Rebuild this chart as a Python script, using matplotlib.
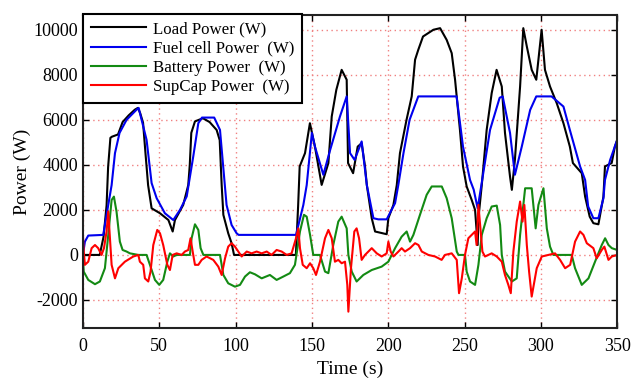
import matplotlib
matplotlib.use("Agg")
import matplotlib.pyplot as plt

plt.rcParams['font.family'] = ['Liberation Serif', 'DejaVu Serif']
plt.rcParams['axes.unicode_minus'] = False

# Load power (W)
t_load = [0, 11, 13.5, 15.5, 16.5, 18, 19, 23, 26, 30,
          34, 36, 37.5, 39.4, 41, 42.7, 45, 50.5, 56, 58.8,
          60.3, 65.7, 69, 70, 71, 73.4, 78.6, 83, 87.6, 89.6,
          90.9, 92, 95.2, 97.4, 99, 139.5, 141, 142, 145.5, 148.7,
          152, 156.4, 160.8, 163, 166, 169.5, 172.8, 173.7, 177, 180,
          182.6, 184.8, 186, 189.2, 191.4, 199, 200.1, 203.4, 205.6, 207.7,
          212, 215.4, 217.6, 219.7, 222.8, 229.6, 234, 238.3, 241.6, 243.8,
          247, 249, 251.4, 254.7, 256.9, 258.6, 259.1, 261.3, 264.5, 267.8,
          271, 274.4, 276.5, 279.8, 281, 283, 286.4, 288.5, 290.8, 294,
          297, 300.5, 302.7, 306, 310.4, 314.8, 319, 321, 326.8, 329,
          332, 334.4, 337.7, 341, 342, 346.4, 348.5, 350]
p_load = [0, 0, 800, 2200, 3900, 5200, 5250, 5350, 5900, 6200,
          6450, 6530, 6300, 5870, 4500, 3100, 2070, 1850, 1550, 1040,
          1550, 2220, 3100, 4000, 5420, 5930, 6070, 5900, 5550, 5100,
          3100, 1780, 960, 520, 0, 0, 2200, 3930, 4520, 5850,
          4810, 3110, 4080, 6150, 7330, 8220, 7780, 4080, 3630, 4810,
          4960, 3930, 3100, 1630, 1040, 920, 1630, 2220, 3100, 4520,
          6000, 7040, 8670, 9110, 9700, 10000, 10070, 9550, 8960, 7780,
          5550, 3930, 3040, 2440, 2000, 440, 1630, 3100, 5550, 7190,
          8220, 7480, 5420, 3480, 2890, 4220, 7480, 10070, 9260, 8220,
          7780, 10000, 8220, 7480, 6740, 5850, 4810, 4080, 3630, 2590,
          1700, 1410, 1360, 2590, 3930, 4080, 4810, 5100]

# Fuel cell power (W)
t_fc = [0, 1.3, 3.5, 13.3, 16.6, 18.8, 21, 24, 28.6, 35,
        36.5, 41.7, 45, 48.3, 53.7, 59.2, 63.6, 68, 72.3, 75.6,
        78, 86, 89.8, 94.1, 97.4, 100.7, 102, 139.6, 144.4, 146.6,
        150, 152, 157.5, 162, 168.4, 172.8, 175, 178, 182.6, 186,
        190.3, 193.5, 199, 204.5, 206.6, 210, 214, 219.7, 244.8, 249,
        253.6, 256, 258.6, 261.5, 266.7, 273, 275, 279.8, 283, 287.5,
        293, 297, 307, 314.8, 319, 325.7, 329, 331, 334.4, 337.7,
        341, 342, 345.4, 350]
p_fc = [0, 590, 860, 890, 2220, 3100, 4520, 5420, 6000, 6440,
        6530, 5110, 3190, 2520, 1850, 1550, 2000, 2600, 4380, 5850,
        6100, 6100, 5550, 2220, 1330, 960, 890, 890, 2220, 3100,
        5420, 4810, 3560, 4670, 6150, 7040, 4520, 4220, 5040, 3100,
        1630, 1580, 1580, 2300, 3100, 4520, 6000, 7040, 7040, 4810,
        3330, 2900, 2070, 3300, 5550, 6980, 7040, 5420, 3560, 4810,
        6440, 7040, 7040, 6590, 5550, 3930, 3330, 2150, 1630, 1630,
        2520, 3330, 4220, 5110]

# Battery power (W)
t_bat = [0, 0.5, 3.5, 7.9, 11.1, 14.4, 16.6, 18.8, 20.3, 22,
         24.2, 26, 28.6, 30.8, 36.3, 41.7, 43.9, 47.2, 50, 52.6,
         55.3, 57, 59.2, 61.4, 70.1, 71.2, 73.4, 75.6, 77.1, 78.9,
         89.8, 92, 95.2, 99.6, 102.9, 106.2, 109.4, 112.7, 117.1, 122.5,
         126.9, 131.3, 135.6, 138.9, 142.2, 144.8, 146.6, 148.8, 150.9, 155.3,
         158.6, 160.8, 164, 167.3, 169.5, 172.8, 173.9, 176.1, 179.3, 183.7,
         189.2, 195.7, 200.1, 204.5, 208.8, 212.1, 214.3, 216.5, 220.8, 225.2,
         228.5, 235.1, 238.3, 241.6, 244.9, 246, 250.3, 251.4, 253.6, 256.9,
         259.1, 261.3, 264.5, 267.8, 271.1, 273.3, 274.4, 276.5, 281, 284.2,
         286.4, 289.7, 294, 296.6, 298.4, 301.7, 303.9, 306, 308.2, 320.2,
         322.4, 326.8, 331.2, 335.5, 339.9, 342.1, 344.3, 346.5, 350]
p_bat = [0, -740, -1110, -1300, -1180, -590, 890, 2440, 2590, 1930,
         590, 220, 150, 70, 0, 0, -440, -1110, -1330, -1110,
         -300, 70, -70, 0, 0, 740, 1360, 1110, 300, 0,
         0, -890, -1260, -1410, -1330, -960, -770, -860, -1040, -890,
         -1110, -960, -810, -440, 1040, 1780, 1700, 890, 0, 0,
         -740, -810, 440, 1480, 1700, 1180, 0, -740, -1180, -890,
         -670, -520, -300, 300, 810, 1040, 590, 890, 1780, 2670,
         3040, 3040, 2520, 1630, 150, 0, 0, -740, -1180, -1330,
         -440, 890, 1630, 2150, 2190, 1330, 0, -740, -1180, -1040,
         890, 2960, 2960, 1180, 2220, 2960, 1180, 370, 0, 0,
         -590, -1330, -1040, -300, 440, 740, 440, 300, 220]

# Supercapacitor power (W)
t_sc = [0, 0.5, 1.3, 3.5, 5.7, 7.9, 10, 12.2, 13.8, 15.5,
        16.6, 17.7, 18.8, 21, 23.2, 27.5, 33, 36.3, 37.3, 39.5,
        40.6, 42.8, 44.3, 46.1, 48.7, 50.5, 52.6, 55.3, 57, 58.8,
        61.4, 64.7, 66.8, 69, 70.5, 71.9, 73.4, 75.6, 77.8, 81,
        85.4, 88.7, 90.9, 93.1, 95.2, 97.4, 99.6, 101.8, 104, 107.3,
        110.5, 113.8, 117.1, 120.4, 123.6, 126.9, 130.2, 133.5, 136.7, 139.6,
        141.1, 142.2, 144, 146.6, 148.8, 150.9, 152.7, 155.3, 158.6, 160.8,
        163, 165.1, 167.3, 169.5, 171.7, 173.2, 173.9, 175.6, 177.8, 179.3,
        180.9, 182.6, 184.8, 187, 189.2, 192.5, 195.7, 199, 200.1, 201.6,
        203.4, 206.7, 208.8, 211, 214.3, 217.6, 219.8, 222, 226.3, 230.7,
        235, 237.2, 241.6, 244.9, 246.4, 248.2, 250.3, 252.5, 254.7, 256.9,
        257.9, 259.1, 260.2, 261.7, 263.4, 267.8, 271.1, 274.4, 276.5, 278.7,
        280.3, 282, 284.2, 286.4, 288, 289.2, 290.8, 292.3, 294, 297.3,
        300.6, 305, 309.3, 312.6, 315.9, 319.2, 322.4, 325.7, 327.9, 330.1,
        334.4, 336.6, 339.9, 341.6, 344.3, 346.5, 350]
p_sc = [900, 200, -440, -300, 300, 440, 300, 0, 300, 1040,
        1930, 740, -440, -1040, -590, -300, -70, 0, -300, -440,
        -1040, -1180, -740, 440, 1110, 960, 440, -440, -670, 0,
        70, 0, 150, 220, 740, 150, -440, -440, -220, -70,
        -220, -520, -890, -150, 370, 520, 370, 150, -70, 150,
        70, 150, 70, 150, 0, 220, 150, 0, 70, 740,
        1180, 300, -440, -590, -370, -590, -890, -300, 740, 1110,
        740, -300, -220, -370, -300, -1330, -2520, -590, 1040, 1180,
        740, -220, 0, 150, 300, 70, -70, 70, 590, 150,
        -70, 150, 300, 150, 300, 520, 440, 150, 0, -70,
        -220, 0, 70, -220, -1700, -1040, 0, 740, 890, 1040,
        440, 2220, 1330, 150, -70, 70, -70, -300, -890, -1330,
        -1700, 150, 1480, 2370, 1480, 2220, 440, -740, -1850, -590,
        -70, 0, 70, -220, -590, -440, 590, 1040, 890, 520,
        300, -150, 220, 370, -220, -70, 0]

labels = ['Load Power (W)', 'Fuel cell Power  (W)', 'Battery Power  (W)', 'SupCap Power  (W)']
x_ticks = [0, 50, 100, 150, 200, 250, 300, 350]
y_ticks = [-2000, 0, 2000, 4000, 6000, 8000, 10000]

fig = plt.figure(figsize=(6.33, 3.78), dpi=100)
ax = fig.add_axes([0.131, 0.132, 0.844, 0.828])

ax.plot(t_load, p_load, color='black', lw=1.5, label=labels[0])
ax.plot(t_fc, p_fc, color='#0000ee', lw=1.5, label=labels[1])
ax.plot(t_bat, p_bat, color='#138a13', lw=1.5, label=labels[2])
ax.plot(t_sc, p_sc, color='#ff0000', lw=1.5, label=labels[3])

ax.set_xlim(0, 350)
ax.set_ylim(-3250, 10650)
ax.set_xticks(x_ticks)
ax.set_yticks(y_ticks)
ax.grid(True, color='#f08080', linestyle=(0, (1, 2.5)), linewidth=1.0)
ax.set_axisbelow(True)
ax.tick_params(direction='in', top=True, right=True, length=4, labelsize=13, width=1)
ax.tick_params(axis='x', pad=7)
for s in ax.spines.values():
    s.set_linewidth(1.5)
    s.set_color('#222222')

ax.set_xlabel('Time (s)', fontsize=14, labelpad=4)
ax.set_ylabel('Power (W)', fontsize=14, labelpad=2)

leg = ax.legend(loc='upper left', bbox_to_anchor=(0, 1.005), borderaxespad=0,
                fontsize=12.2, handlelength=3.3, handletextpad=0.4,
                labelspacing=0.2, borderpad=0.45, fancybox=False,
                framealpha=1, edgecolor='black')
leg.get_frame().set_linewidth(1.5)

fig.savefig('out.png', dpi=100)
